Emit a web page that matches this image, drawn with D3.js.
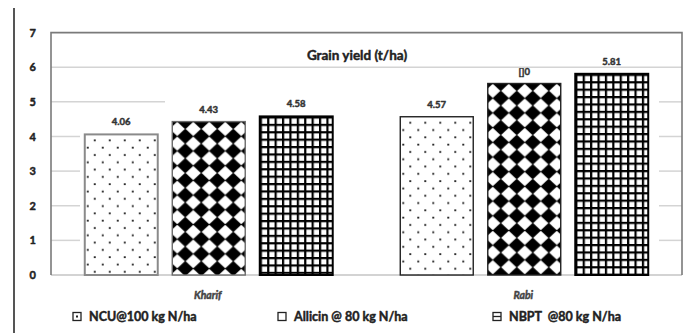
<!DOCTYPE html>
<html>
<head>
<meta charset="utf-8">
<script src="https://cdn.jsdelivr.net/npm/d3@7/dist/d3.min.js"></script>
<style>
  html, body { margin: 0; padding: 0; background: #fff; }
  svg { display: block; font-family: Lato, "Open Sans", sans-serif; }
  text { white-space: pre; }
  text.heavy { stroke-width: 0.45px; stroke-linejoin: round; }
</style>
</head>
<body>
<svg id="chart" width="688" height="333"></svg>
<script>
// Grain yield (t/ha) by season and nitrogen source
const seasons = ["Kharif", "Rabi"];
const treatments = ["NCU@100 kg N/ha", "Allicin @ 80 kg N/ha", "NBPT  @80 kg N/ha"];
const ncuYield = [4.06, 4.57];
const allicinYield = [4.43, 5.53];
const nbptYield = [4.58, 5.81];
const ncuLabels = ["4.06", "4.57"];
const allicinLabels = ["4.43", "[]0"];
const nbptLabels = ["4.58", "5.81"];
const yTicks = [0, 1, 2, 3, 4, 5, 6, 7];

const seriesValues = [ncuYield, allicinYield, nbptYield];
const seriesLabels = [ncuLabels, allicinLabels, nbptLabels];
const seriesKeys = ["ncu", "allicin", "nbpt"];

const svg = d3.select("#chart");
const plot = { left: 51, right: 682, top: 32.6, bottom: 275 };

const y = d3.scaleLinear().domain([0, 7]).range([plot.bottom, plot.top]);
const x0 = d3.scaleBand().domain(seasons).range([plot.left, plot.right]).padding(0);
const x1 = d3.scaleBand().domain(seriesKeys).range([0, x0.bandwidth()])
  .paddingInner(0.166).paddingOuter(0.386);

const defs = svg.append("defs");

// bold text drawn slightly heavier with a matching outline
function heavyText(sel, color) {
  return sel.attr("class", "heavy").attr("font-weight", 700)
    .attr("fill", color).attr("stroke", color);
}

// outer left rule
svg.append("line").attr("x1", 14).attr("x2", 14).attr("y1", 8).attr("y2", 333)
  .attr("stroke", "#555").attr("stroke-width", 2);

// gridlines (partly hidden behind the inner white panel)
const gridColor = "#d4d4d4";
const innerLeft = 80, innerRight = 659;
yTicks.filter(t => t > 0 && t < 7).forEach(t => {
  const gy = y(t);
  if (t === 6) {
    svg.append("line").attr("x1", plot.left).attr("x2", plot.right).attr("y1", gy).attr("y2", gy)
      .attr("stroke", gridColor).attr("stroke-width", 1.5);
  } else {
    const leftEnd = t === 5 ? 165 : innerLeft;
    svg.append("line").attr("x1", plot.left).attr("x2", leftEnd).attr("y1", gy).attr("y2", gy)
      .attr("stroke", gridColor).attr("stroke-width", 1.5);
    svg.append("line").attr("x1", innerRight).attr("x2", plot.right).attr("y1", gy).attr("y2", gy)
      .attr("stroke", gridColor).attr("stroke-width", 1.5);
  }
});

// baseline
svg.append("line").attr("x1", plot.left).attr("x2", plot.right).attr("y1", y(0)).attr("y2", y(0))
  .attr("stroke", "#c4c4c4").attr("stroke-width", 1.5);

// plot frame (top, left, right)
svg.append("path")
  .attr("d", `M${plot.left},${plot.bottom} V${plot.top} H${plot.right} V${plot.bottom}`)
  .attr("fill", "none").attr("stroke", "#7a7a7a").attr("stroke-width", 1.6);

// y axis labels
const yAxis = d3.axisLeft(y).tickValues(yTicks).tickSize(0).tickPadding(0).tickFormat(d3.format("d"));
const yg = svg.append("g").attr("transform", "translate(36,0)").call(yAxis);
yg.select(".domain").remove();
heavyText(yg.selectAll("text"), "#222").attr("font-size", 11).attr("font-family", "Lato, sans-serif");

// title
heavyText(svg.append("text"), "#222").attr("x", 357).attr("y", 60).attr("text-anchor", "middle")
  .attr("font-size", 13.5).text("Grain yield (t/ha)");

// fill patterns, one per bar so each starts at the bar's own corner
function makePattern(key, i, bx, by) {
  const id = `pat-${key}-${i}`;
  if (key === "ncu") {
    const p = defs.append("pattern").attr("id", id).attr("patternUnits", "userSpaceOnUse")
      .attr("x", bx).attr("y", by).attr("width", 15).attr("height", 14.6);
    p.append("rect").attr("width", 15).attr("height", 14.6).attr("fill", "#fff");
    p.append("rect").attr("x", 9.1).attr("y", 5.1).attr("width", 1.8).attr("height", 1.8).attr("fill", "#111");
    p.append("rect").attr("x", 2.1).attr("y", 12.4).attr("width", 1.8).attr("height", 1.8).attr("fill", "#111");
  } else if (key === "allicin") {
    const w = 16, h = 14.7;
    const p = defs.append("pattern").attr("id", id).attr("patternUnits", "userSpaceOnUse")
      .attr("x", bx - w / 2 - 3).attr("y", by - h / 2).attr("width", w).attr("height", h);
    p.append("rect").attr("width", w).attr("height", h).attr("fill", "#fff");
    const cx = w / 2, cy = h / 2, rx = 8.4, ry = 7.7;
    // neighbouring diamonds overlap a little at their tips
    [[0, 0], [w, 0], [-w, 0], [0, h], [0, -h]].forEach(([dx, dy]) => {
      p.append("polygon")
        .attr("points", `${cx + dx},${cy + dy - ry} ${cx + dx + rx},${cy + dy} ${cx + dx},${cy + dy + ry} ${cx + dx - rx},${cy + dy}`)
        .attr("fill", "#000");
    });
  } else {
    const s = 7.4;
    const p = defs.append("pattern").attr("id", id).attr("patternUnits", "userSpaceOnUse")
      .attr("x", bx).attr("y", by).attr("width", s).attr("height", s);
    p.append("rect").attr("width", s).attr("height", s).attr("fill", "#fff");
    p.append("rect").attr("x", 0).attr("y", 0).attr("width", 2.2).attr("height", s).attr("fill", "#000");
    p.append("rect").attr("x", 0).attr("y", 0).attr("width", s).attr("height", 2.2).attr("fill", "#000");
  }
  return `url(#${id})`;
}

const borderColor = { ncu: "#8a8a8a", allicin: "#6a6a6a", nbpt: "#000" };
const borderWidth = { ncu: 2, allicin: 1.4, nbpt: 2 };

seriesKeys.forEach((key, si) => {
  const g = svg.append("g");
  seasons.forEach((season, i) => {
    const v = seriesValues[si][i];
    const bx = x0(season) + x1(key);
    const bw = x1.bandwidth();
    const by = y(v);
    const bh = y(0) - by;
    const stroke = (i === 1 && key !== "nbpt") ? "#222" : borderColor[key];
    const sw = (i === 1 && key !== "nbpt") ? 1.4 : borderWidth[key];
    g.append("rect").attr("x", bx).attr("y", by).attr("width", bw).attr("height", bh)
      .attr("fill", makePattern(key, i, bx, by))
      .attr("stroke", stroke).attr("stroke-width", sw);
    heavyText(g.append("text"), "#333").attr("x", bx + bw / 2).attr("y", by - 9).attr("text-anchor", "middle")
      .attr("font-size", 9.5).text(seriesLabels[si][i]);
  });
});

// season labels
heavyText(svg.selectAll(".season").data(seasons).enter().append("text"), "#444")
  .attr("x", d => x0(d) + x0.bandwidth() / 2 - 1).attr("y", 299).attr("text-anchor", "middle")
  .attr("font-size", 10.5).attr("font-style", "italic")
  .text(d => d);

// legend
const legendX = [73, 278, 493];
const lg = svg.append("g");
treatments.forEach((name, i) => {
  const sx = legendX[i], sy = 312.5;
  lg.append("rect").attr("x", sx).attr("y", sy).attr("width", 8).attr("height", 8)
    .attr("fill", "#fff").attr("stroke", "#222").attr("stroke-width", 1.3);
  if (i === 0) {
    lg.append("rect").attr("x", sx + 3).attr("y", sy + 3).attr("width", 2).attr("height", 2).attr("fill", "#222");
  } else if (i === 2) {
    lg.append("line").attr("x1", sx).attr("x2", sx + 8).attr("y1", sy + 4).attr("y2", sy + 4)
      .attr("stroke", "#222").attr("stroke-width", 1.3);
  }
  heavyText(lg.append("text"), "#222").attr("x", sx + 16).attr("y", sy + 8.5)
    .attr("font-size", 12.5).text(name);
});
</script>
</body>
</html>
